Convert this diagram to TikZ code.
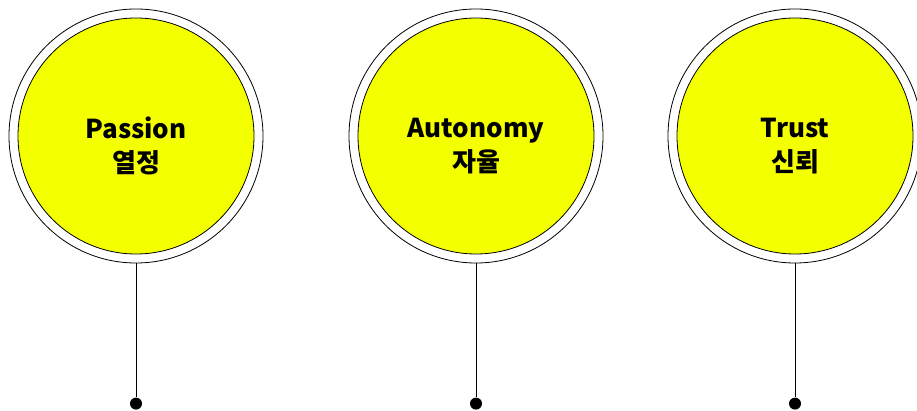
\documentclass[tikz,border=0pt]{standalone}
\usepackage{fontspec}
\setmainfont{Noto Sans CJK KR}
\usepackage{xcolor}
\usepackage{tikz}
\usetikzlibrary{positioning}

\definecolor{ringyellow}{RGB}{244,255,0}

\begin{document}
\begin{tikzpicture}[
    x=1pt,
    y=-1pt,
    ring/.style={
        circle,
        draw=black,
        line width=0.8pt,
        fill=white,
        inner sep=0pt,
        minimum size=254pt
    },
    disc/.style={
        circle,
        draw=black,
        line width=0.8pt,
        fill=ringyellow,
        inner sep=0pt,
        minimum size=236pt
    },
    label/.style={
        align=center,
        font=\bfseries\fontsize{26}{34}\selectfont
    },
    dot/.style={
        circle,
        fill=black,
        inner sep=0pt,
        minimum size=12pt
    },
    stem/.style={
        line width=0.8pt,
        color=black
    }
]

\clip (0,0) rectangle (917,411);
\useasboundingbox (0,0) rectangle (917,411);

\node[ring] (passionring) at (136,136) {};
\node[disc] (passion) at (136,136) {};
\node[label] (passiontext) at (136,146) {Passion\\열정};
\node[dot, below=134pt of passionring] (passiondot) {};

\node[ring] (autonomyring) at (476,136) {};
\node[disc] (autonomy) at (476,136) {};
\node[label] (autonomytext) at (476,146) {Autonomy\\자율};
\node[dot, below=134pt of autonomyring] (autonomydot) {};

\node[ring] (trustring) at (795,136) {};
\node[disc] (trust) at (795,136) {};
\node[label] (trusttext) at (795,146) {Trust\\신뢰};
\node[dot, below=134pt of trustring] (trustdot) {};

\draw[stem] (passionring.south) -- (passiondot);
\draw[stem] (autonomyring.south) -- (autonomydot);
\draw[stem] (trustring.south) -- (trustdot);

\end{tikzpicture}
\end{document}
